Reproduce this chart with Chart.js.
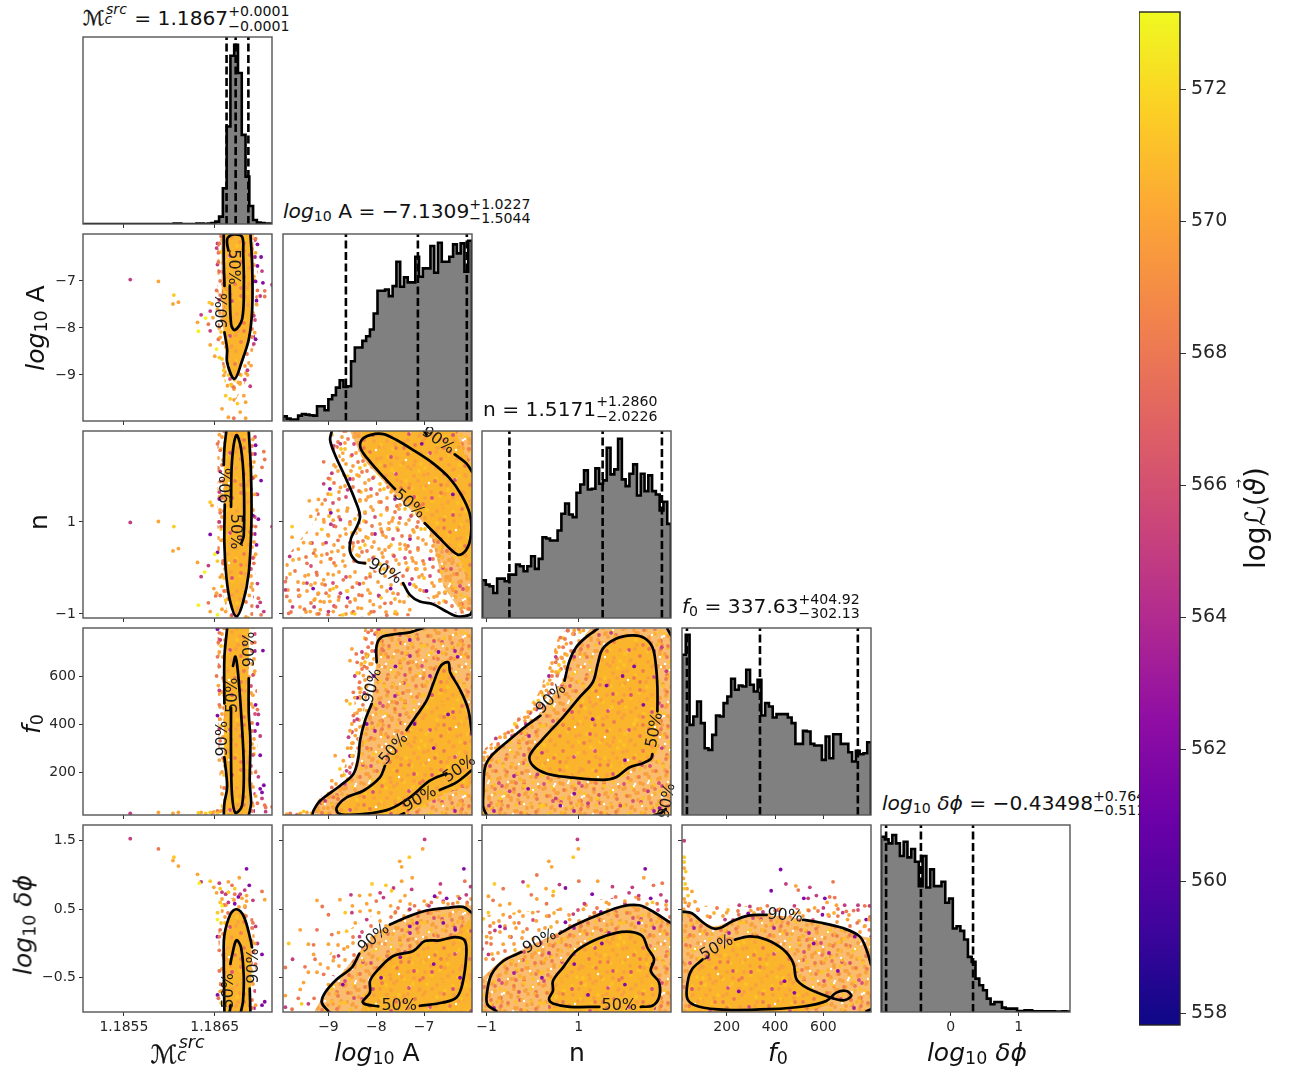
<!DOCTYPE html>
<html><head><meta charset="utf-8">
<style>
html,body{margin:0;padding:0;background:#fff;width:1298px;height:1072px;overflow:hidden;font-family:'DejaVu Sans',sans-serif;color:#111}
canvas{position:absolute;display:block}
.t{position:absolute;white-space:nowrap;line-height:1}
.t sub{font-size:.7em;vertical-align:-.22em;line-height:0}
.stk{position:relative;display:inline-block;line-height:1}
.up{position:relative;top:-9.3px;font-size:.7em}
.dn{position:absolute;left:0;top:10.2px;font-size:.7em}
.mc{-webkit-text-stroke:.35px #111}
.stk2{position:relative;display:inline-block;width:1.15em;height:1em}
.stk2 .a{position:absolute;left:.1em;top:-.25em;font-size:.7em;font-style:italic}
.stk2 .b{position:absolute;left:0;top:.5em;font-size:.7em;font-style:italic}
</style></head><body>
<script src="https://cdn.jsdelivr.net/npm/chart.js@4"></script>
<script>
// ---- axis categories, ticks, labels
const colX=[83,283,482,682,881], rowY=[37,234,431,628,825], panelW=189, panelH=187;
const xRange={Mc:[1.18505,1.18713],A:[-9.95,-6.0],n:[-1.1,3.0],f0:[15,797],dp:[-1.02,1.75]};
const yRange={A:[-9.98,-6.0],n:[-1.09,2.98],f0:[21,800],dp:[-1.0,1.73]};
const tickVals={Mc:[1.1855,1.1865],A:[-9,-8,-7],n:[-1,1],f0:[200,400,600],dp:[-0.5,0.5,1.5]};
const tickValsX={Mc:[1.1855,1.1865],A:[-9,-8,-7],n:[-1,1],f0:[200,400,600],dp:[0,1]};
const tickText={Mc:['1.1855','1.1865'],A:['−9','−8','−7'],n:['−1','1'],f0:['200','400','600'],dp:['−0.5','0.5','1.5']};
const tickTextX={Mc:['1.1855','1.1865'],A:['−9','−8','−7'],n:['−1','1'],f0:['200','400','600'],dp:['0','1']};
const cbarTicks=[558,560,562,564,566,568,570,572], cbarRange=[557.82,573.17];

// ---- histograms (50 bins, arbitrary height units)
const hist_Mc=[0,0,0,0,0,0,0,0,0,0,0,0,0,0,0,0,0,0,0,0,0,0,0,0,1,1,0,0,0,0,1,1,0,1,3,7,22,107,292,504,537,452,267,142,54,12,4,3,1,1];
const hist_A=[14,7,4,4,16,21,19,17,16,44,44,32,65,77,100,122,102,104,179,220,220,240,254,274,322,390,390,394,374,404,477,402,430,415,415,492,432,457,457,524,444,534,477,477,492,529,502,532,447,540];
const hist_n=[113,100,95,75,118,118,110,130,130,160,155,140,155,185,147,177,242,238,232,232,262,312,343,310,302,375,400,442,385,387,448,402,412,510,430,445,537,415,395,432,460,367,432,380,427,380,370,322,348,282];
const hist_f0=[480,540,270,295,340,275,200,195,240,298,295,335,355,408,375,388,385,435,390,370,405,298,335,325,292,302,302,302,292,275,213,213,252,250,213,208,208,165,235,170,242,242,213,213,188,160,192,182,185,218];
const hist_dp=[525,517,505,530,505,467,510,463,488,450,377,467,373,427,377,377,390,327,340,250,257,243,217,165,150,100,80,65,40,23,30,30,13,10,10,10,3,3,5,5,2,2,2,2,2,2,1,1,2,1];
const quant_Mc=[1.18663,1.18673,1.18687], quant_A=[-8.6353,-7.1309,-6.1082], quant_n=[-0.5055,1.5171,2.8031], quant_f0=[35.5,337.63,742.55], quant_dp=[-0.945,-0.435,0.329];

// ---- credible contours (segments of x,y)
const c_Mc_A=[[1.186607,-7.106,1.186599,-6.541,1.186599,-6.0],[1.186607,-8.095,1.186636,-8.449,1.186636,-8.731,1.186717,-9.085,1.186801,-8.696,1.186875,-8.237,1.186912,-7.601,1.186912,-6.682,1.186893,-6.0],[1.186665,-7.1,1.18668,-7.919,1.186721,-8.046,1.186801,-7.813,1.18682,-7.106,1.186813,-6.399,1.186801,-6.06,1.18671,-6.011,1.186643,-6.081,1.186636,-6.2,1.18665,-6.35]];
const c_Mc_n=[[1.186628,2.99,1.186606,2.6,1.186599,2.24],[1.18661,1.38,1.186606,.52,1.186628,-.2,1.186672,-.75,1.186738,-1.06,1.186811,-.75,1.186874,-.11,1.186903,.97,1.186899,2.06,1.186874,2.99],[1.186679,1.33,1.18669,2.33,1.186738,2.89,1.186789,2.6,1.186819,1.88,1.186819,.7,1.186789,.52]];
const c_Mc_f0=[[1.186636,798,1.186606,676,1.186606,486],[1.186606,261,1.186636,139,1.186606,70,1.186599,18],[1.186874,590,1.186874,451,1.186892,330,1.186885,157,1.186899,70,1.186874,18],[1.186679,468,1.186679,278,1.18669,105,1.186727,30,1.1868,61,1.186819,226,1.186789,451,1.186753,624,1.186727,681,1.186701,642]];
const c_Mc_dp=[[1.186606,-.99,1.186599,-.177,1.186606,.125,1.186672,.427,1.186738,.5,1.186819,.397,1.186892,.065,1.18691,-.056],[1.186885,-.66,1.186892,-.99],[1.186665,-.99,1.186675,-.9],[1.186672,-.298,1.18669,-.177,1.186738,.047,1.186789,-.056,1.186819,-.479,1.186811,-.841,1.186789,-.99]];
const c_A_n=[[-7.61,1.717,-7.854,1.986,-8.132,2.312,-8.326,2.601,-8.306,2.783,-8.132,2.891,-7.854,2.913,-7.576,2.783,-7.229,2.565,-6.813,2.275,-6.465,1.949,-6.222,1.587,-6.049,1.188,-6.014,.826,-6.083,.464,-6.257,.283,-6.431,.391,-6.674,.645,-6.986,.971],[-8.93,2.98,-8.965,2.783,-8.861,2.457,-8.653,1.986,-8.444,1.478,-8.34,1.116,-8.424,.862,-8.528,.645,-8.549,.355,-8.41,.138,-8.236,.101],[-7.438,-.333,-7.299,-.587,-7.09,-.732,-6.813,-.79,-6.535,-.949,-6.292,-1.058,-6.049,-1.022,-6.0,-.95],[-6.361,2.471,-6.118,2.275,-6.0,2.094],[-7.0,2.98,-6.95,2.9]];
const c_A_f0=[[-7.993,657,-7.993,727,-7.889,762,-7.576,775,-7.299,782,-7.02,800],[-8.097,484,-8.236,414,-8.34,331,-8.375,261,-8.479,192,-8.757,143,-9.174,80,-9.312,39,-9.333,21],[-7.368,375,-7.16,435,-6.951,497,-6.813,567,-6.674,636,-6.57,655,-6.486,655,-6.458,616,-6.257,546,-6.083,463,-6.0,358],[-6.535,194,-6.882,164,-7.299,94,-7.715,46,-8.132,28,-8.549,22,-8.792,28,-8.826,53,-8.618,94,-8.271,122,-7.924,178,-7.819,226],[-6.674,125,-6.326,157,-6.0,208],[-7.5,21,-7.42,28]];
const c_n_f0=[[2.705,453,2.705,553,2.669,650,2.597,720,2.417,759,2.165,769,1.806,755,1.518,713,1.41,650,1.302,574,1.014,511,.655,428,.223,338,-.065,268,.007,226,.295,194,.799,178,1.518,167,1.806,178,2.094,219,2.381,236,2.561,254,2.597,275],[.691,581,.799,664,.942,720,1.158,762,1.41,797],[.165,435,-.137,393,-.568,324,-.892,268,-1.036,219,-1.072,108,-1.072,53,-1,21],[2.92,797,3,769],[2.633,21,2.777,28,2.885,46]];
const c_A_dp=[[-7.715,.277,-7.368,.384,-6.951,.481,-6.535,.519,-6.188,.534,-6.0,.447],[-8.354,-.149,-8.514,-.352,-8.826,-.522,-9.069,-.716,-9.139,-.861,-9,-.99],[-7.958,-.919,-8.236,-.885,-8.285,-.846,-8.132,-.715,-8.132,-.546,-7.958,-.377,-7.646,-.183,-7.229,-.11,-6.986,.035,-6.674,.045,-6.361,.093,-6.153,.045,-6.118,-.159,-6.201,-.594,-6.326,-.788,-6.604,-.861,-7.09,-.909]];
const c_n_dp=[[.583,.146,.942,.277,1.446,.423,1.95,.544,2.309,.558,2.597,.471,2.957,.316,3.0,.3],[-.245,-.125,-.64,-.255,-.892,-.449,-.986,-.691,-.986,-.885,-.784,-.99],[1.446,-.924,.799,-.924,.439,-.875,.353,-.812,.439,-.691,.439,-.546,.655,-.352,.942,-.11,1.374,.059,1.806,.156,2.129,.171,2.381,.108,2.489,-.062,2.633,-.231,2.561,-.401,2.741,-.57,2.741,-.788,2.597,-.909,2.345,-.924]];
const c_f0_dp=[[15,.466,56,.442,97,.321,138,.225,172,.225,221,.321,289,.408,365,.418],[516,.345,585,.307,681,.225,750,.104,778,-.089,797,-.307],[234,.056,296,.104,365,.056,434,-.089,475,-.283,489,-.524,530,-.645,612,-.766,681,-.829,715,-.766,695,-.693,654,-.717,612,-.838,516,-.92,379,-.959,200,-.969,83,-.92,38,-.814,38,-.572,56,-.379,100,-.234],[778,-.99,797,-.96]];

// ---- contour labels [x,y,text,rotation in degrees]
const l_Mc_A=[[1.186699,-6.703,'50%',90],[1.186588,-7.636,'90%',-90]];
const l_Mc_n=[[1.186635,1.79,'90%',-90],[1.18672,.79,'50%',90]];
const l_Mc_f0=[[1.186592,339,'90%',-90],[1.186698,520,'50%',-90],[1.186885,711,'90%',-90]];
const l_Mc_dp=[[1.186929,-.328,'90%',-90],[1.186654,-.69,'50%',-90]];
const l_A_n=[[-7.31,1.39,'50%',40],[-7.82,-.08,'90%',30],[-6.71,2.77,'90%',35]];
const l_A_f0=[[-8.076,559,'90%',-75],[-7.632,296,'50%',-50],[-6.257,212,'50%',-35],[-7.09,87,'90%',-30]];
const l_n_f0=[[.403,504,'90%',-45],[2.65,375,'50%',-80],[2.921,80,'90%',-80]];
const l_A_dp=[[-8.049,.074,'90%',-40],[-7.521,-.914,'50%',0]];
const l_n_dp=[[.151,.025,'90%',-28],[1.878,-.909,'50%',0]];
const l_f0_dp=[[441,.403,'90%',5],[159,-.065,'50%',-30]];

// ---- sample clouds: [logL,[x,y,x,y,...]]
const s_Mc_A=[
[571.5,[1.18605,-7.3,1.18644,-7.46,1.18655,-8.63,1.18658,-8.66,1.18662,-9.44,1.18667,-9.51,1.18675,-9.61,1.1866,-8.9,1.18665,-9.0,1.18672,-9.1,1.18668,-9.2]],
[573,[1.18632,-8.07,1.1864,-7.79,1.18652,-8.45]],
[570,[1.18588,-7.01,1.18604,-7.49,1.1861,-7.45,1.18631,-7.88,1.18647,-7.49,1.18648,-7.78,1.18645,-8.36,1.1866,-9.01,1.18664,-9.23,1.18676,-9.16,1.18682,-9.44,1.18684,-9.58,1.18678,-9.79,1.18658,-9.72,1.18665,-9.9,1.18684,-9.92,1.1869,-8.8,1.18686,-9.0,1.1865,-8.6,1.18656,-8.2,1.18655,-8.0,1.18653,-7.6,1.18694,-8.1,1.18696,-7.5,1.18693,-6.9,1.18695,-6.4]],
[568,[1.18654,-8.24,1.18643,-7.92,1.18671,-9.26,1.18671,-9.92,1.18705,-7.21,1.18705,-7.33,1.18655,-6.2,1.18654,-6.6,1.18656,-7.0,1.18652,-7.2,1.18654,-6.4,1.18657,-6.05,1.18695,-6.1,1.18697,-7.2,1.18656,-7.3,1.18655,-6.8]],
[565,[1.18557,-6.97,1.18635,-7.72,1.18645,-7.64,1.18645,-8.06,1.18689,-9.24,1.18702,-6.79,1.18713,-7.08,1.187,-7.32,1.18693,-8.34,1.18693,-7.74,1.18653,-6.2,1.18652,-6.3,1.18653,-6.65,1.18655,-7.4,1.18686,-8.9,1.18683,-9.1]],
[562,[1.18697,-6.22,1.18701,-6.49,1.18697,-6.68,1.18695,-7.01,1.18703,-7.04,1.18696,-7.42,1.18695,-8.24]]];
const s_Mc_n=[
[571.5,[1.18605,.9,1.18645,1.43,1.18653,.15,1.18658,-.4,1.18662,-.7]],
[573,[1.18639,-.09,1.18632,-.81,1.18653,-1.02,1.1865,.3]],
[570,[1.18588,1.01,1.18604,.37,1.1861,.42,1.18647,1.36,1.18631,.12,1.18649,-.45,1.18645,-.95,1.18691,-.34,1.18656,-.2,1.18652,-.55,1.18658,-.9,1.18662,-.95,1.18695,.3,1.18694,1.6,1.18692,2.8,1.18695,2.0,1.18657,.6,1.18655,2.9,1.18688,-.6]],
[568,[1.18643,-.76,1.18651,-.61,1.18704,2.53,1.18705,2.36,1.18702,2.19,1.18701,-1.02,1.18698,-.66,1.18656,2.56,1.18658,2.24,1.18656,1.88,1.18658,1.52,1.18656,1.2,1.18657,.9,1.18659,.1,1.18656,-.6,1.18653,2.7,1.18695,.9,1.18693,.1]],
[565,[1.18557,.99,1.18643,.05,1.18635,-.19,1.18713,.9,1.18697,1.6,1.18697,-.84,1.18704,-.95,1.18697,-.34,1.18656,2.1,1.18655,1.65,1.18655,1.0,1.187,-.75]],
[562,[1.18645,.73,1.18653,.34,1.18695,2.67,1.18701,1.9,1.18698,1.06,1.18692,1.14,1.18655,1.5,1.18696,.5]]];
const s_Mc_f0=[
[571.5,[1.18632,30,1.1864,28,1.18645,32,1.18653,28]],
[570,[1.18588,32,1.18604,28,1.1861,32,1.18635,32,1.18649,34,1.18656,36,1.18658,40,1.18695,100,1.18693,300,1.18692,520,1.18694,620,1.18655,700,1.18654,560,1.18656,420,1.18655,250,1.18692,60]],
[568,[1.18653,38,1.18647,30,1.18655,780,1.18654,740,1.18653,680,1.18652,600,1.18655,640,1.18655,480,1.18656,330,1.18694,740,1.18697,70,1.18706,52,1.18713,55,1.18697,460,1.18705,62,1.18695,200]],
[565,[1.18557,28,1.18655,380,1.18655,540,1.187,350,1.18698,440,1.18698,180,1.18702,90,1.18706,35,1.18656,750]],
[562,[1.18653,795,1.18703,706,1.18653,435,1.18695,480,1.18697,400,1.187,270,1.18704,145,1.187,130,1.18702,115]]];
const s_Mc_dp=[
[571.5,[1.18605,1.26,1.18645,.91,1.18656,.8,1.18653,.45,1.18656,.6,1.18665,.75,1.18672,.8]],
[573,[1.18633,.88,1.18653,.35,1.18658,.55]],
[570,[1.18604,1.21,1.1861,1.13,1.18631,1.01,1.18677,.96,1.18649,.82,1.18705,.64,1.18652,.74,1.18665,.9,1.18685,.7,1.18658,.65,1.18695,-.9,1.18694,.0,1.18656,-.7,1.18685,.62,1.1868,.66]],
[568,[1.18588,1.38,1.18669,.85,1.18702,.76,1.18655,-.1,1.18655,-.4,1.18654,-.8,1.18656,.2,1.18672,.72,1.18692,.3,1.18695,-.3,1.18655,.1,1.18657,-.6]],
[565,[1.18557,1.53,1.18635,.9,1.18655,.88,1.18658,.75,1.18692,.63,1.18665,.6,1.18697,.0,1.18695,.25,1.18662,.72,1.18683,.78,1.18678,.72]],
[562,[1.18685,1.09,1.18653,-.75,1.18653,.1,1.18705,-.85,1.18702,-.9,1.18702,-.16,1.18672,.58,1.18676,.68,1.18688,.85]]];
const s_A_n=[
[571.5,[-9.76,.9,-9.14,.84,-8.6,-.5,-8.7,-1.02,-8.45,-1.0,-8.6,2.0,-8.95,1.6,-7.9,-.65,-7.6,-.95,-8.9,-.45]],
[570,[-9.76,.67,-9.52,.55,-9.38,.54,-9.4,1.46,-9.21,1.49,-9.24,1.26,-9.37,1.12,-8.9,1.04,-9.63,.41,-9.14,.28,-8.93,.35,-9.52,-.33,-9.28,-.33,-9.1,-.26,-8.9,-.15,-9.21,-.55,-8.83,-.41,-8.55,-.19,-9.17,-.73,-8.97,-.73,-8.79,-.7,-8.44,-.7,-9.38,-.95,-9.17,-.91,-8.9,-.95,-8.31,-.88,-8.13,-.55,-8.06,-.8,-7.65,-.55,-7.51,-.73,-7.89,-.41,-8.27,-.33,-8.85,2.2,-8.75,1.75,-8.8,1.25,-8.65,.85,-8.7,.45,-9.0,.7,-9.1,1.05,-8.85,.05,-8.7,.15,-9.42,-.15,-9.6,-.6,-9.3,-.7,-8.7,2.5,-8.6,1.3,-8.55,.95,-7.61,-.99,-7.3,-.91,-8.15,-1.0]],
[568,[-9.1,2.31,-9,1.95,-9.07,1.48,-9.63,-.48,-9.07,-.37,-8.69,-.26,-8.62,-.84,-8.48,-.95,-7.82,-.77,-8.13,-.19,-9.9,-.3,-9.87,-.62,-9.83,-.99,-9.31,.32,-8.9,2.6,-8.8,.6,-8.95,.2,-8.78,1.5,-8.85,.9,-9.25,-.1,-9.45,.1,-8.5,-.42,-8.3,-.6,-8.05,-.95,-7.78,-1.03,-9.5,-.9,-9.05,-.55,-8.85,-.85,-9.2,-1.0]],
[565,[-9.81,.25,-8.93,2.06,-9.1,1.83,-9.9,-.48,-9.45,-.33,-8.95,.95,-8.6,1.7,-8.75,2.7,-8.55,.55,-9.0,-.95,-8.75,-.55,-8.35,-.35,-7.95,-.6,-9.75,-.85,-9.05,.55,-8.75,1.05,-9.3,-.85]],
[562,[-8.97,1.72,-8.95,1.2,-8.6,-.65,-7.7,-.45,-7.3,-.35,-6.95,-.5,-7.05,2.7,-6.4,1.6,-9.32,-.45]]];
const s_A_f0=[
[571.5,[-8.4,613,-8.55,484,-8.51,268,-8.76,213,-9.52,36,-8.2,681]],
[570,[-8.51,713,-8.55,664,-8.31,650,-8.13,650,-8.27,602,-8.34,532,-8.62,497,-8.33,459,-8.2,456,-8.51,400,-8.55,372,-8.44,352,-8.51,320,-8.69,247,-8.86,268,-8.72,185,-8.93,164,-9.87,25,-9.59,28,-9.45,32,-9.35,28,-8.0,782,-7.92,748,-8.3,390,-8.45,510,-8.6,300,-8.4,230,-8.6,170,-9.0,110,-8.2,560,-8.75,125,-9.1,50,-9.2,40]],
[568,[-8.42,692,-8.4,657,-8.35,574,-8.48,532,-8.48,435,-8.17,782,-9.8,28,-9.66,22,-8.93,136,-8.17,720,-8.1,790,-8.25,640,-8.38,300,-7.85,706,-8.28,480,-8.55,220,-8.9,95]],
[565,[-8.58,345,-9.07,80,-8.3,700,-8.45,600,-8.4,420,-8.25,530,-8.62,205,-7.95,795]],
[562,[-8.2,681,-8.4,509,-8.05,600,-8.2,400,-7.6,640,-7.2,400,-6.7,700,-6.3,680,-7.3,750,-6.8,300,-6.5,440]]];
const s_n_f0=[
[571.5,[.33,567,.58,622,.12,497,-.39,400,-.95,240,-1.05,130,-.7,90,.2,60,1.4,90,2.2,400]],
[570,[.87,775,.73,734,.51,699,.62,678,.37,583,.19,532,.26,511,.04,463,-.17,428,-.03,414,-.21,379,-.6,345,-.71,345,-1.04,282,-1.06,261,.9,790,.7,640,.42,620,.3,540,-.1,450,-.45,372,-.8,300,1.1,790,-.9,300]],
[568,[.76,789,.5,657,.53,601,.37,530,-.53,365,-.75,317,-.4,355,.15,480,.66,720,.6,760,1.0,795,-.3,420]],
[565,[.76,790,.5,680,-.15,400,.08,460,-.8,340,-.95,60,-.5,120,.1,190,.5,90,1.2,70,1.9,60,2.5,120,2.8,300,.2,280,2.9,620,2.8,720,.9,680,1.7,780]],
[562,[1.3,420,1.95,600,2.2,640,2.4,480,.9,110,-.1,130,.6,60,2.75,50,1.6,560,2.0,250]]];
const s_A_dp=[
[571.5,[-7.31,1.26,-7.8,.85,-7.68,.77,-8.65,.45,-8.62,.18,-9.83,0,-9.56,-.88,-8.09,.87]],
[570,[-7.03,1.38,-7.51,1.2,-7.47,1.12,-7.25,.96,-7.47,.91,-8.35,.7,-8.13,.71,-8.76,.64,-9.24,.63,-8.34,.47,-8.13,.48,-9.59,.2,-8.79,.16,-8.44,.3,-9.42,-.01,-9,-.01,-9.31,-.16,-9.24,-.42,-9.52,-.57,-9.59,-.67,-9.9,-.76,-8.5,.55,-8.2,.58,-7.95,.45,-7.7,.55,-7.5,.62,-9.17,-.3,-9.42,-.42,-9.0,-.6,-8.9,-.25,-8.6,-.05,-7.4,.7,-7.0,.62,-6.6,.6,-6.3,.6]],
[568,[-6.67,.74,-6.15,.91,-9.24,.2,-9.31,-.02,-9.9,-.35,-9.49,-.34,-9.28,-.23,-9.13,.54,-9,.42,-8.93,.13,-9.63,-.8,-9.76,-.96,-7.2,.55,-6.85,.6,-6.4,.58,-8.0,.62,-6.1,.6,-7.6,.46,-9.3,-.8,-9.1,-.45]],
[565,[-6.99,1.52,-7.64,.81,-7.26,.79,-6.26,.66,-6.12,.71,-8.53,.71,-7.92,.74,-6.03,.83,-6.66,.87,-7.85,.67,-8.51,.45,-9.75,-.23,-8.79,-.18,-9.9,-.93,-9.42,-.88,-6.6,.62,-6.9,.55,-7.3,.5,-8.2,.35,-8.35,.1]],
[562,[-6.17,1.09,-6.53,.66,-6.78,.69,-7.15,.3,-6.35,.2,-6.8,-.3,-7.9,-.5,-6.25,-.5,-7.5,-.2,-6.6,.3,-8.7,-.6,-7.3,.25]]];
const s_n_dp=[
[571.5,[.88,1.26,-.83,.87,-.1,.84,.45,.76,-1.07,.36,-.96,.45,2.6,.6]],
[570,[.99,1.38,.35,1.2,.41,1.12,2.41,.96,1.41,.91,.29,.8,.44,.7,.09,.65,-.96,.69,-.71,.56,-.5,.58,-.64,.42,-.29,.47,.08,.33,-.21,.17,-.64,-.01,.3,.4,.6,.5,.0,.45,-.4,.3,-.85,.3,-1,.1,1.1,.5,1.6,.6,2.0,.62,-.5,.1,.8,.35]],
[568,[1,.91,.09,1.0,-.64,.8,2.62,.85,2.81,.88,-.03,.71,1.34,.45,-.86,.63,-.93,.16,-.86,-.23,-1,.01,2.9,.5,2.3,.65,1.8,.68,.3,.58,-.3,.3,2.7,.58]],
[565,[.97,1.52,-.21,.9,.58,.86,2.16,.82,1.73,.83,2.09,.74,2.78,.71,-.82,.19,-.96,-.16,.88,.43,1.12,.58,2.9,.62,2.3,.7,2.0,.58,-.6,.22]],
[562,[2.44,1.09,.71,.81,1.29,.72,2.56,.66,-.71,.25,.71,.31,1.48,.46,.9,-.3,2.0,-.6,1.5,.0,2.3,.3,.2,-.5,1.2,-.75,2.6,-.3]]];
const s_f0_dp=[
[571.5,[24,1.26,28,.87,24,1.19,30,1.05,24,.8,40,.7]],
[570,[486,.84,615,.6,654,.56,69,.61,56,.76,564,.52,340,.51,21,.95,24,1.1,24,.65,28,.6,36,.8,45,.58,22,.5,80,.5,120,.4,200,.45,300,.48,420,.5,500,.45,620,.42,700,.35,770,.25,790,.35]],
[568,[640,.9,626,.68,647,.67,725,.48,771,.55,368,.55,496,.78,42,.55,695,.47,250,.42,400,.48,540,.48,660,.4,740,.3,790,.2]],
[565,[445,.87,544,.82,571,.7,537,.66,688,.56,743,.56,791,.55,296,.54,252,.56,24,1.5,193,.35,600,.52,680,.45,480,.55,350,.46]],
[562,[423,1.08,384,.77,519,.66,606,.66,596,.42,777,.35,289,.44,439,-.55,480,-.72,660,-.4,560,.0,120,-.2,250,-.7,730,.1]]];

// ---- dense-cloud outlines (x,y polygons) and the texture each one uses
const f_Mc_A=[['low',[1.18653,-6,1.18653,-7.8,1.18657,-8.6,1.18662,-9.3,1.18671,-9.6,1.18683,-9.2,1.18692,-8.5,1.18697,-7.8,1.18698,-6]],['mid',[1.18657,-6,1.18658,-7.8,1.18662,-8.5,1.18664,-8.9,1.18672,-9.15,1.1868,-8.8,1.18688,-8.3,1.18692,-7.6,1.18693,-6]],['dense',[1.18659,-6,1.1866,-7.9,1.18664,-8.5,1.18665,-8.8,1.18672,-9.05,1.1868,-8.65,1.18687,-8.2,1.18691,-7.6,1.18691,-6.6,1.18689,-6]]];
const f_Mc_n=[['low',[1.18653,2.98,1.18653,.4,1.18658,-.5,1.18665,-1.09,1.18692,-1.09,1.18696,.4,1.18697,2.98]],['dense',[1.18663,2.98,1.1866,2.4,1.1866,.5,1.18663,-.2,1.18667,-.75,1.18674,-1.05,1.1868,-.75,1.18687,-.1,1.1869,.97,1.1869,2.06,1.18687,2.98]]];
const f_Mc_f0=[['low',[1.18653,800,1.18654,300,1.18657,21,1.18694,21,1.18697,300,1.18696,800]],['dense',[1.18663,800,1.1866,676,1.1866,260,1.18663,139,1.1866,21,1.18687,21,1.18689,157,1.18689,330,1.18687,590,1.18688,800]]];
const f_Mc_dp=[['low',[1.18655,-1,1.18654,.2,1.18658,.62,1.18678,.7,1.18692,.45,1.18696,-.3,1.18695,-1]],['dense',[1.1866,-1,1.1866,-.17,1.1866,.12,1.18667,.43,1.18674,.5,1.18682,.4,1.18689,.06,1.18691,-.2,1.18689,-1]]];
const f_A_n=[['sparse',[-9.9,-1.05,-9.9,.2,-9.3,1.0,-9,1.9,-8.93,2.98,-8.6,2.0,-8.3,1.1,-8.5,.3,-8.3,.05,-7.4,-.3,-7.2,-1.05]],['low',[-8.95,2.98,-8.65,2,-8.34,1.1,-8.55,.3,-8.3,.05,-7.4,-.3,-6.8,-.75,-6.3,-1,-6,-1,-6,2.98]],['mid',[-8.55,2.98,-8.3,2.4,-7.6,1.6,-6.9,.85,-6.75,.3,-6.6,-.4,-6.3,-.85,-6,-.95,-6,2.98]],['dense',[-8.35,2.6,-8.3,2.98,-6.35,2.98,-6,2.1,-6,-.4,-6.2,.1,-6.43,.4,-6.95,.97,-7.6,1.72,-8.13,2.31]]];
const f_A_f0=[['low',[-8.25,800,-8.35,640,-8.45,500,-8.55,320,-8.7,190,-9.15,100,-9.45,21,-8.7,21,-7.9,800]],['mid',[-8.0,800,-8.0,657,-8.1,484,-8.34,331,-8.48,192,-8.8,130,-9.17,80,-9.33,21,-6,21,-6,800]],['dense',[-7.37,375,-6.95,497,-6.67,640,-6.5,660,-6.25,546,-6,360,-6,150,-6.55,110,-7.45,21,-8.8,21,-8.83,53,-8.3,120,-7.9,190]]];
const f_n_f0=[['low',[-1.09,230,-1.09,290,-.4,400,.1,520,.35,640,.55,760,.75,797,1.3,797,.8,664,.69,590,.17,445,-.14,393,-.9,268]],['mid',[-1.09,21,-1.09,230,-.9,268,-.14,393,.17,445,.69,590,.8,664,1.0,740,1.25,797,3,797,3,21]],['dense',[2.72,453,2.72,553,2.67,650,2.6,720,2.42,762,2.16,772,1.8,758,1.5,715,1.4,650,1.3,574,1.01,511,.65,428,.22,338,-.07,268,0,226,.3,190,.8,175,1.52,163,1.8,175,2.1,215,2.4,232,2.6,250,2.72,300]]];
const f_A_dp=[['sparse',[-9.2,-.4,-8.7,.15,-8,.45,-7,.68,-6,.72,-6,.5,-7,.45,-8,.1,-8.8,-.5]],['mid',[-9.3,-1,-9.14,-.8,-8.8,-.5,-8.35,-.12,-8.0,.15,-7.7,.3,-7,.49,-6.5,.53,-6,.56,-6,-1]],['dense',[-8.28,-1,-8.3,-.85,-8.13,-.6,-7.96,-.37,-7.65,-.18,-7.23,-.1,-6.98,.04,-6.36,.1,-6,.4,-6,-1]]];
const f_n_dp=[['sparse',[-1.1,-.3,-1.1,.4,-.5,.45,.5,.5,1.5,.65,2.2,.7,3,.6,3,.25,2.1,.55,1.4,.42,.58,.15,-.2,-.08,-.64,-.22]],['mid',[-1.1,-1,-1.1,-.5,-.64,-.22,-.2,-.08,.58,.17,1.4,.44,2.1,.58,2.6,.49,3,.32,3,-1]],['dense',[.34,-1,.33,-.8,.42,-.55,.65,-.35,.94,-.1,1.37,.07,1.8,.17,2.13,.18,2.4,.11,2.5,-.06,2.65,-.23,2.58,-.4,2.76,-.57,2.76,-.8,2.6,-1]]];
const f_f0_dp=[['sparse',[15,.55,250,.55,500,.52,797,.55,797,.08,681,.23,440,.4,290,.42,150,.24,56,.44,15,.47]],['mid',[15,.47,56,.44,97,.32,150,.24,221,.33,290,.42,440,.4,585,.31,681,.23,750,.11,797,.08,797,-1,15,-1]],['dense',[234,.06,296,.11,365,.06,434,-.09,475,-.28,489,-.52,530,-.65,612,-.77,620,-.9,516,-1,38,-1,38,-.57,56,-.38,100,-.2]]];

// ---- texture tiles: dots [x,y,colourIndex]
const tileColors=['#fdc328','#f9a03f','#ee7b51','#ffffff','#d8507a','#fbb231','#a21f9a'];
const dotsDense=[[3,4,0],[11,2,1],[20,6,5],[30,3,0],[36,9,1],[7,12,5],[16,14,0],[25,13,1],[33,17,5],[2,20,1],[10,22,0],[21,21,2],[28,25,0],[37,26,5],[5,30,0],[14,31,1],[23,33,3],[32,34,1],[18,38,0],[38,37,0],[8,37,1],[27,6,3],[12,17,1]];
const dotsMid=[[4,3,1],[12,5,2],[22,2,0],[31,6,3],[37,3,1],[2,12,3],[9,14,1],[17,11,4],[26,13,1],[35,15,2],[6,22,2],[14,21,0],[22,20,3],[30,23,1],[38,22,0],[3,30,1],[11,30,3],[19,29,2],[27,32,6],[35,31,1],[8,38,0],[17,37,1],[25,39,2],[33,38,3],[16,16,1],[29,8,0]];
const dotsLow=[[4,4,1],[15,7,2],[27,3,1],[36,10,2],[8,16,2],[21,15,1],[31,19,4],[3,25,1],[14,27,1],[25,28,2],[37,29,1],[9,36,4],[20,37,1],[31,38,1],[12,12,5],[26,9,5]];

// ---- colour scale (plasma)
const plasma=['#0d0887','#41049d','#6a00a8','#8f0da4','#b12a90','#cc4778','#e16462','#f2844b','#fca636','#fcce25','#f0f921'];
function hex(c){return [1,3,5].map(i=>parseInt(c.substr(i,2),16));}
function plasmaAt(L){const t=Math.min(1,Math.max(0,(L-cbarRange[0])/(cbarRange[1]-cbarRange[0])))*10;const i=Math.min(9,Math.floor(t));const a=hex(plasma[i]),b=hex(plasma[i+1]),f=t-i;return `rgb(${a.map((v,k)=>Math.round(v+(b[k]-v)*f)).join(',')})`;}

function makeTile(lists,bg){const c=document.createElement('canvas');c.width=c.height=80;const g=c.getContext('2d');if(bg){g.fillStyle=bg;g.fillRect(0,0,80,80);}
 const quads=[d=>[d[0],d[1]],d=>[40+d[1],d[0]],d=>[39-d[0],40+d[1]],d=>[79-d[1],79-d[0]]];
 lists.forEach(([dots,ox,oy])=>quads.forEach(q=>dots.forEach(d=>{const p=q([(d[0]+ox)%40,(d[1]+oy)%40]);const white=tileColors[d[2]]==='#ffffff';g.fillStyle=tileColors[d[2]];
  [-80,0,80].forEach(a=>[-80,0,80].forEach(b=>{g.beginPath();g.arc(p[0]+a,p[1]+b,white?1.2:1.9,0,7);g.fill();}));})));
 return g.createPattern(c,'repeat');}
const textures={dense:makeTile([[dotsDense,0,0],[dotsLow,17,11]],'#fbb52c'),mid:makeTile([[dotsLow,9,23],[dotsDense,13,7],[dotsMid,0,0]],'rgba(249,170,70,.78)'),low:makeTile([[dotsMid,0,0],[dotsLow,19,13]],null),sparse:makeTile([[dotsLow,0,0]],null)};

function xy(f){const o=[];for(let i=0;i<f.length;i+=2)o.push({x:f[i],y:f[i+1]});return o;}
const LEFT=60,BOTTOM=26,TOP=2,RIGHT=6,SCATTER_TOP=4;
const framePlugin={id:'frame',afterDatasetsDraw(c){const a=c.chartArea,g=c.ctx;g.save();g.strokeStyle=c.config.options.frameColor||'#555';g.lineWidth=1.4;g.strokeRect(a.left,a.top,a.width,a.height);g.restore();}};
const labelPlugin={id:'clabels',afterDatasetsDraw(c){const ls=c.config.options.contourLabels||[];const g=c.ctx;ls.forEach(l=>{g.save();g.translate(c.scales.x.getPixelForValue(l[0]),c.scales.y.getPixelForValue(l[1]));g.rotate(l[3]*Math.PI/180);g.font="16px 'DejaVu Sans'";g.fillStyle='#1a1a1a';g.textAlign='center';g.textBaseline='middle';g.fillText(l[2],0,0);g.restore();});}};

function xScale(key,showLabels){return {type:'linear',min:xRange[key][0],max:xRange[key][1],
 afterBuildTicks:s=>{s.ticks=tickValsX[key].map(v=>({value:v}));},afterFit:s=>{s.height=BOTTOM;s.paddingLeft=0;s.paddingRight=0;},
 border:{display:false},grid:{drawOnChartArea:false,drawTicks:true,tickLength:4,tickColor:'#333',lineWidth:1},
 ticks:{autoSkip:false,maxRotation:0,minRotation:0,padding:3,color:'#262626',font:{family:"'DejaVu Sans'",size:14},callback:(v,i)=>showLabels?tickTextX[key][i]:''}};}
function yScale(key,showLabels){return {type:'linear',min:yRange[key][0],max:yRange[key][1],
 afterBuildTicks:s=>{s.ticks=tickVals[key].map(v=>({value:v}));},afterFit:s=>{s.width=LEFT;s.paddingTop=0;s.paddingBottom=0;},
 border:{display:false},grid:{drawOnChartArea:false,drawTicks:true,tickLength:4,tickColor:'#333',lineWidth:1},
 ticks:{autoSkip:false,padding:3,color:'#262626',font:{family:"'DejaVu Sans'",size:14},callback:(v,i)=>showLabels?tickText[key][i]:''}};}
function addCanvas(x,y,w,h){const c=document.createElement('canvas');c.width=w;c.height=h;c.style.cssText=`left:${x}px;top:${y}px;width:${w}px;height:${h}px`;document.body.appendChild(c);return c;}
function panelCanvas(col,row,top){return addCanvas(colX[col]-LEFT,rowY[row]-top,panelW+LEFT+RIGHT,panelH+top+BOTTOM);}
const common={responsive:false,animation:false,events:[],plugins:{legend:{display:false},tooltip:{enabled:false}}};

function histPanel(col,key,vals,quant){
 const [lo,hi]=xRange[key],w=(hi-lo)/vals.length,pts=[{x:lo,y:0},{x:lo,y:vals[0]}];
 vals.forEach((v,i)=>pts.push({x:lo+(i+1)*w,y:i+1<vals.length?vals[i+1]:0}));
 const ds=quant.map(q=>({type:'line',data:[{x:q,y:0},{x:q,y:560}],borderColor:'#000',borderWidth:2.6,borderDash:[8,3.5],pointRadius:0,order:0,fill:false}));
 ds.push({type:'line',data:pts,stepped:'before',borderColor:'#000',borderWidth:2.6,backgroundColor:'#808080',fill:'origin',pointRadius:0,order:1});
 new Chart(panelCanvas(col,col,TOP),{type:'line',data:{datasets:ds},plugins:[framePlugin],options:{...common,layout:{padding:{top:TOP,right:RIGHT,left:LEFT,bottom:0}},
  scales:{x:xScale(key,col===4),y:{display:false,min:0,max:560}}}});
}
function scatterPanel(col,row,kx,ky,samples,contours,labels,fills){
 const ds=[];
 contours.forEach(c=>ds.push({type:'line',data:xy(c),borderColor:'#000',borderWidth:2.7,tension:.35,pointRadius:0,fill:false,order:0,borderCapStyle:'round'}));
 samples.forEach(s=>ds.push({type:'line',data:xy(s[1]),showLine:false,pointRadius:1.9,pointBorderWidth:0,pointBackgroundColor:plasmaAt(s[0]),order:1}));
 fills.forEach((f,i)=>ds.push({type:'line',data:xy(f[1]),borderWidth:0,borderColor:'transparent',backgroundColor:textures[f[0]],fill:'shape',pointRadius:0,order:10-i}));
 new Chart(panelCanvas(col,row,SCATTER_TOP),{type:'line',data:{datasets:ds},plugins:[labelPlugin,framePlugin],options:{...common,contourLabels:labels,layout:{padding:{top:0,right:RIGHT,left:0,bottom:0}},
  scales:{x:xScale(kx,row===4),y:yScale(ky,col===0)}}});
}
function text(html,x,y,size,opts={}){const d=document.createElement('div');d.className='t';d.innerHTML=html;d.style.fontSize=size+'px';d.style.left=x+'px';d.style.top=y+'px';
 d.style.transform=opts.tr||'';document.body.appendChild(d);return d;}
function centered(html,x,y,size,rot=0){return text(html,x,y,size,{tr:`translate(-50%,-50%) rotate(${rot}deg)`});}
function stack(a,b){return `<span class="stk"><span class="up">${a}</span><span class="dn">${b}</span></span>`;}

// ---- panels
histPanel(0,'Mc',hist_Mc,quant_Mc);histPanel(1,'A',hist_A,quant_A);histPanel(2,'n',hist_n,quant_n);histPanel(3,'f0',hist_f0,quant_f0);histPanel(4,'dp',hist_dp,quant_dp);
scatterPanel(0,1,'Mc','A',s_Mc_A,c_Mc_A,l_Mc_A,f_Mc_A);
scatterPanel(0,2,'Mc','n',s_Mc_n,c_Mc_n,l_Mc_n,f_Mc_n);
scatterPanel(0,3,'Mc','f0',s_Mc_f0,c_Mc_f0,l_Mc_f0,f_Mc_f0);
scatterPanel(0,4,'Mc','dp',s_Mc_dp,c_Mc_dp,l_Mc_dp,f_Mc_dp);
scatterPanel(1,2,'A','n',s_A_n,c_A_n,l_A_n,f_A_n);
scatterPanel(1,3,'A','f0',s_A_f0,c_A_f0,l_A_f0,f_A_f0);
scatterPanel(1,4,'A','dp',s_A_dp,c_A_dp,l_A_dp,f_A_dp);
scatterPanel(2,3,'n','f0',s_n_f0,c_n_f0,l_n_f0,f_n_f0);
scatterPanel(2,4,'n','dp',s_n_dp,c_n_dp,l_n_dp,f_n_dp);
scatterPanel(3,4,'f0','dp',s_f0_dp,c_f0_dp,l_f0_dp,f_f0_dp);

// ---- titles and axis labels
const LOG='<i>log</i><sub>10</sub>';
const MC='<span class="mc">ℳ</span><span class="stk2"><span class="a">src</span><span class="b">c</span></span>';
const T=20.2,tOff=17.1;
text(`${MC} = 1.1867${stack('+0.0001','−0.0001')}`,83,22.5-tOff,T);
text(`${LOG} A = −7.1309${stack('+1.0227','−1.5044')}`,283,218-tOff,T);
text(`n = 1.5171${stack('+1.2860','−2.0226')}`,483,415.7-tOff,T);
text(`<i>f</i><sub>0</sub> = 337.63${stack('+404.92','−302.13')}`,682,613-tOff,T);
text(`${LOG} <i>δϕ</i> = −0.43498${stack('+0.7640','−0.5110')}`,882,810-tOff,T);
const A=25;
centered(`${MC}`,178,1052,A);centered(`${LOG} A`,377,1052,A);centered('n',577,1052,A);centered('<i>f</i><sub>0</sub>',778,1052,A);centered(`${LOG} <i>δϕ</i>`,977,1052,A);
centered(`${LOG} A`,35,328,A,-90);centered('n',38,522,A,-90);centered('<i>f</i><sub>0</sub>',31,724,A,-90);centered(`${LOG} <i>δϕ</i>`,23,925,A,-90);

// ---- colour bar
const cbCanvas=addCanvas(1139,10,125,1030);
new Chart(cbCanvas,{type:'bar',data:{labels:['logL'],datasets:[{data:[[cbarRange[0],cbarRange[1]]],barPercentage:1,categoryPercentage:1,borderWidth:0,
 backgroundColor:(ctx)=>{const a=ctx.chart.chartArea;if(!a)return plasma[5];const g=ctx.chart.ctx.createLinearGradient(0,a.bottom,0,a.top);plasma.forEach((c,i)=>g.addColorStop(i/10,c));return g;}}]},
 plugins:[framePlugin],options:{...common,frameColor:'#222',layout:{padding:{top:2,bottom:15,left:0,right:0}},
 scales:{x:{display:false},y:{position:'right',min:cbarRange[0],max:cbarRange[1],afterBuildTicks:s=>{s.ticks=cbarTicks.map(v=>({value:v}));},afterFit:s=>{s.width=84;s.paddingTop=0;s.paddingBottom=0;},
 border:{display:false},grid:{drawOnChartArea:false,drawTicks:true,tickLength:6,tickColor:'#333'},ticks:{autoSkip:false,padding:5,color:'#262626',font:{family:"'DejaVu Sans'",size:19},callback:(v)=>String(v)}}}}});
centered('log<span style="font-style:normal">ℒ</span>(<i>ϑ</i>)',1256,518,28,-90);
centered('<span style="font-size:11px">→</span>',1237,484,16,-90);
</script>
</body></html>
